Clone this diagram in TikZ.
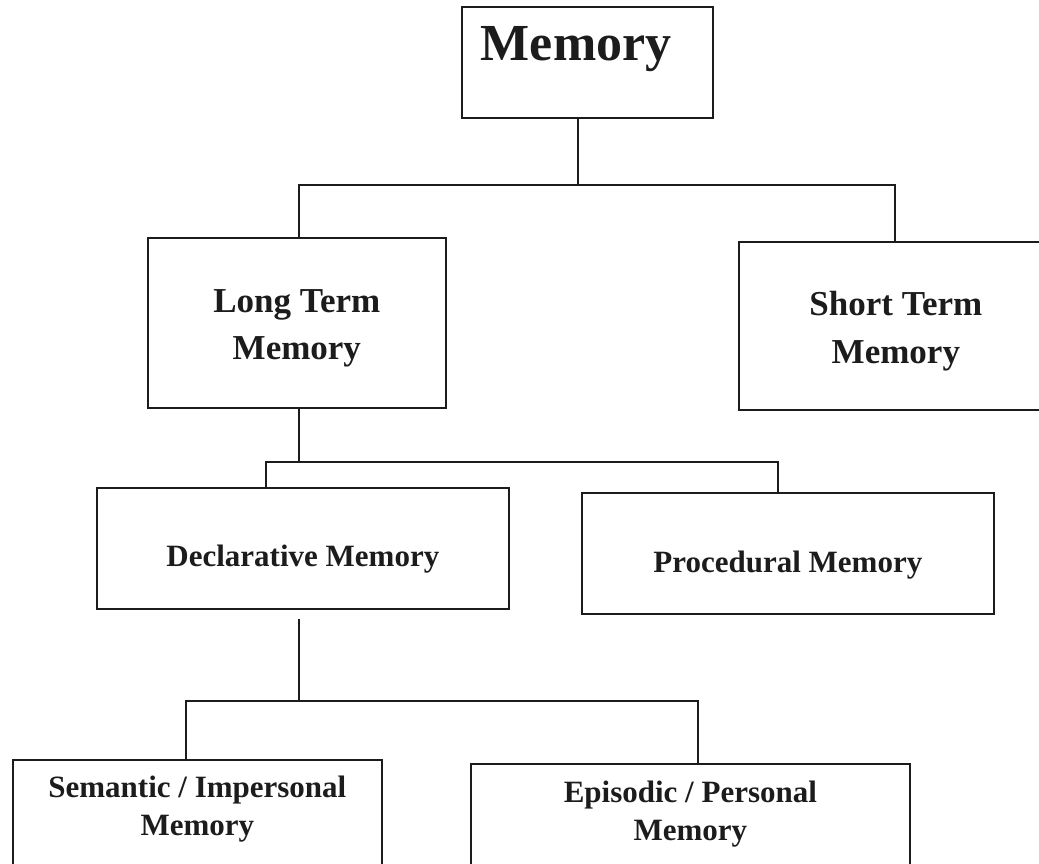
\documentclass[tikz,border=0pt]{standalone}
\usepackage{fontspec}
\setmainfont{Liberation Serif}
\definecolor{ink}{HTML}{1C1C1C}
\newcommand{\twoline}[2]{\begin{tabular}[t]{@{}c@{}}#1\\#2\end{tabular}}
\begin{document}
\begin{tikzpicture}[x=1pt,y=-1pt,
  box/.style={draw=ink, line width=1.7pt, inner sep=0pt, anchor=north west, text=ink},
  conn/.style={draw=ink, line width=1.7pt},
  ftitle/.style={font=\fontsize{52}{60}\selectfont\bfseries},
  fmid/.style={font=\fontsize{35}{47}\selectfont\bfseries},
  fsmall/.style={font=\fontsize{31}{38}\selectfont\bfseries}]
\useasboundingbox (0,0) rectangle (1039,864);
\clip (0,0) rectangle (1039,864);
% boxes
\node[box, ftitle, align=left, text width=213pt, inner xsep=19pt, text height=54pt, text depth=57pt] (mem) at (461,6) {Memory};
\node[box, fmid, minimum width=298pt, text height=75pt, text depth=95pt] (ltm) at (147,237) {\twoline{Long Term}{Memory}};
\node[box, fmid, minimum width=314pt, text height=74pt, text depth=94pt] (stm) at (738,241) {\fontsize{35}{48}\selectfont\twoline{Short Term}{Memory}};
\node[box, fsmall, minimum width=412pt, text height=79pt, text depth=42pt] (decl) at (96,487) {Declarative Memory};
\node[box, fsmall, minimum width=412pt, text height=80pt, text depth=41pt] (proc) at (581,492) {Procedural Memory};
\node[box, fsmall, minimum width=369pt, text height=38pt, text depth=83pt] (sem) at (12,759) {\twoline{Semantic / Impersonal}{Memory}};
\node[box, fsmall, minimum width=439pt, text height=39pt, text depth=78pt] (epi) at (470,763) {\twoline{Episodic / Personal}{Memory}};
% junction points
\coordinate (a0) at (578,185);
\coordinate (a1) at (299,185);
\coordinate (a2) at (895,185);
\coordinate (b0) at (299,462);
\coordinate (b1) at (266,462);
\coordinate (b2) at (778,462);
\coordinate (c0) at (299,701);
\coordinate (c1) at (186,701);
\coordinate (c2) at (698,701);
% connectors
\draw[conn] (mem.south -| a0) -- (a0);
\draw[conn] (ltm.north -| a1) -- (a1) -- (a2) -- (stm.north -| a2);
\draw[conn] (ltm.south -| b0) -- (b0);
\draw[conn] (decl.north -| b1) -- (b1) -- (b2) -- (proc.north -| b2);
\draw[conn] (decl.south -| c0) ++(0,9) -- (c0);
\draw[conn] (sem.north -| c1) -- (c1) -- (c2) -- (epi.north -| c2);
\end{tikzpicture}
\end{document}
